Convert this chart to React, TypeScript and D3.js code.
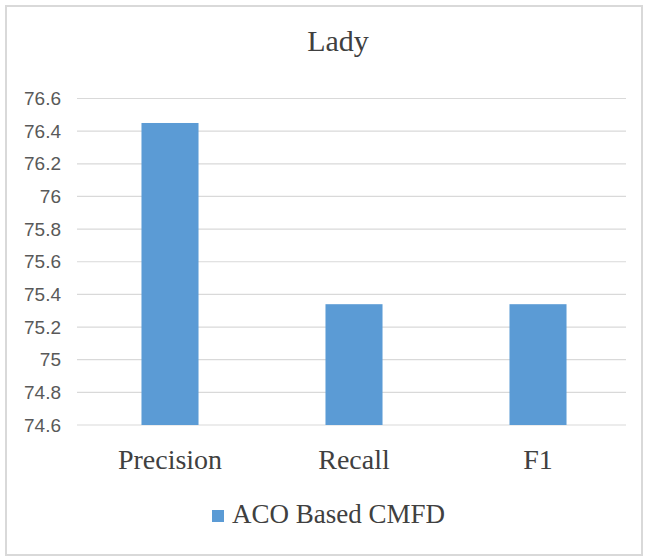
import React from "react";
import * as d3 from "d3";

const categories: string[] = ["Precision", "Recall", "F1"];
const seriesName = "ACO Based CMFD";
const values: number[] = [76.45, 75.34, 75.34];
const yTicks: number[] = [74.6, 74.8, 75, 75.2, 75.4, 75.6, 75.8, 76, 76.2, 76.4, 76.6];
const title = "Lady";

const W = 646;
const H = 556;
const barColor = "#5b9bd5";
const serif = "'Liberation Serif', 'Times New Roman', serif";

export default function App() {
  const x = d3.scaleBand<string>().domain(categories).range([78, 630]).paddingInner(0.69).paddingOuter(0.345);
  const y = d3.scaleLinear().domain([74.6, 76.6]).range([425, 98.5]);

  return (
    <svg
      width={W}
      height={H}
      style={{ position: "absolute", left: 0, top: 0, background: "#fff" }}
    >
      <rect x={0} y={0} width={W} height={H} fill="#fff" />
      <rect x={6} y={6} width={636} height={549} fill="#fff" stroke="#d9d9d9" strokeWidth={2} />
      <text x={338} y={51} textAnchor="middle" fontFamily={serif} fontSize={30} fill="#404040">
        {title}
      </text>
      {yTicks.map((t) => (
        <g key={t}>
          <line x1={77} x2={626} y1={y(t)} y2={y(t)} stroke="#d9d9d9" strokeWidth={1.2} />
          <text
            x={61}
            y={y(t)}
            dy="0.35em"
            textAnchor="end"
            fontFamily="'Liberation Sans', Arial, sans-serif"
            fontSize={19}
            fill="#595959"
          >
            {d3.format("")(+t.toFixed(1))}
          </text>
        </g>
      ))}
      {categories.map((c, i) => (
        <rect
          key={c}
          x={x(c)}
          y={y(values[i])}
          width={x.bandwidth()}
          height={y(74.6) - y(values[i])}
          fill={barColor}
        />
      ))}
      {categories.map((c) => (
        <text
          key={c}
          x={(x(c) as number) + x.bandwidth() / 2}
          y={469}
          textAnchor="middle"
          fontFamily={serif}
          fontSize={28}
          fill="#404040"
        >
          {c}
        </text>
      ))}
      <rect x={212} y={510} width={12} height={12} fill={barColor} />
      <text x={232} y={523} fontFamily={serif} fontSize={27} fill="#404040">
        {seriesName}
      </text>
    </svg>
  );
}
